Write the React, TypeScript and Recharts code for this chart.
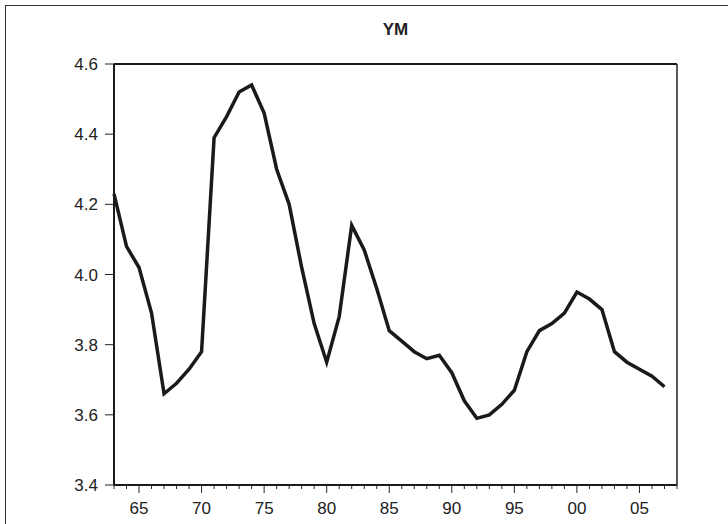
import React from 'react';
import { LineChart, Line, XAxis, YAxis, ReferenceLine } from 'recharts';

const years = [
  1963, 1964, 1965, 1966, 1967, 1968, 1969, 1970, 1971, 1972, 1973, 1974, 1975, 1976, 1977,
  1978, 1979, 1980, 1981, 1982, 1983, 1984, 1985, 1986, 1987, 1988, 1989, 1990, 1991, 1992,
  1993, 1994, 1995, 1996, 1997, 1998, 1999, 2000, 2001, 2002, 2003, 2004, 2005, 2006, 2007,
];

const ym = [
  4.23, 4.08, 4.02, 3.89, 3.66, 3.69, 3.73, 3.78, 4.39, 4.45, 4.52, 4.54, 4.46, 4.30, 4.20,
  4.02, 3.86, 3.75, 3.88, 4.14, 4.07, 3.96, 3.84, 3.81, 3.78, 3.76, 3.77, 3.72, 3.64, 3.59,
  3.60, 3.63, 3.67, 3.78, 3.84, 3.86, 3.89, 3.95, 3.93, 3.90, 3.78, 3.75, 3.73, 3.71, 3.68,
];

const xTicks = [
  1963, 1964, 1965, 1966, 1967, 1968, 1969, 1970, 1971, 1972, 1973, 1974, 1975, 1976, 1977,
  1978, 1979, 1980, 1981, 1982, 1983, 1984, 1985, 1986, 1987, 1988, 1989, 1990, 1991, 1992,
  1993, 1994, 1995, 1996, 1997, 1998, 1999, 2000, 2001, 2002, 2003, 2004, 2005, 2006, 2007,
  2008,
];

const yTicks = [3.4, 3.6, 3.8, 4.0, 4.2, 4.4, 4.6];

const data = years.map((y, i) => ({ year: y, ym: ym[i] }));

const FONT = '"Liberation Sans", Arial, sans-serif';

const YearTick = (props: any) => {
  const { x, y, payload } = props;
  const yr = payload.value as number;
  const major = yr % 5 === 0;
  return (
    <g>
      <line x1={x} x2={x} y1={y} y2={y + (major ? 8 : 4)} stroke="#222" strokeWidth={1} />
      {major && (
        <text x={x} y={y + 29} textAnchor="middle" fontSize={17} fill="#222" fontFamily={FONT}>
          {String(yr % 100).padStart(2, '0')}
        </text>
      )}
    </g>
  );
};

export default function App() {
  return (
    <div
      style={{
        position: 'fixed',
        left: 0,
        top: 0,
        width: 728,
        height: 524,
        overflow: 'hidden',
        background: '#fff',
      }}
    >
      <div
        style={{
          position: 'absolute',
          left: 5,
          top: 5,
          width: 800,
          height: 600,
          borderLeft: '1.5px solid #333',
          borderTop: '1.5px solid #333',
        }}
      />
      <div
        style={{
          position: 'absolute',
          left: 114,
          width: 563,
          top: 20,
          lineHeight: '20px',
          textAlign: 'center',
          fontFamily: FONT,
          fontWeight: 'bold',
          fontSize: 17,
          color: '#222',
        }}
      >
        YM
      </div>
      <div style={{ position: 'absolute', left: 0, top: 0 }}>
        <LineChart
          width={728}
          height={524}
          data={data}
          margin={{ top: 64, right: 51, bottom: 0, left: 0 }}
        >
          <XAxis
            dataKey="year"
            type="number"
            domain={[1963, 2008]}
            ticks={xTicks}
            interval={0}
            height={39}
            tickSize={0}
            tickMargin={0}
            tick={<YearTick />}
            axisLine={{ stroke: '#1a1a1a', strokeWidth: 2 }}
            tickLine={false}
          />
          <YAxis
            type="number"
            domain={[3.4, 4.6]}
            ticks={yTicks}
            interval={0}
            width={114}
            tickSize={9}
            tickMargin={7}
            tickFormatter={(v: number) => v.toFixed(1)}
            tick={{ fontSize: 17, fill: '#222', fontFamily: FONT }}
            tickLine={{ stroke: '#222', strokeWidth: 1 }}
            axisLine={{ stroke: '#1a1a1a', strokeWidth: 2 }}
          />
          <ReferenceLine y={4.6} stroke="#1a1a1a" strokeWidth={2} ifOverflow="visible" />
          <ReferenceLine x={2008} stroke="#222" strokeWidth={1.5} ifOverflow="visible" />
          <Line
            type="linear"
            dataKey="ym"
            stroke="#1a1a1a"
            strokeWidth={3.5}
            dot={false}
            activeDot={false}
            isAnimationActive={false}
          />
        </LineChart>
      </div>
    </div>
  );
}
